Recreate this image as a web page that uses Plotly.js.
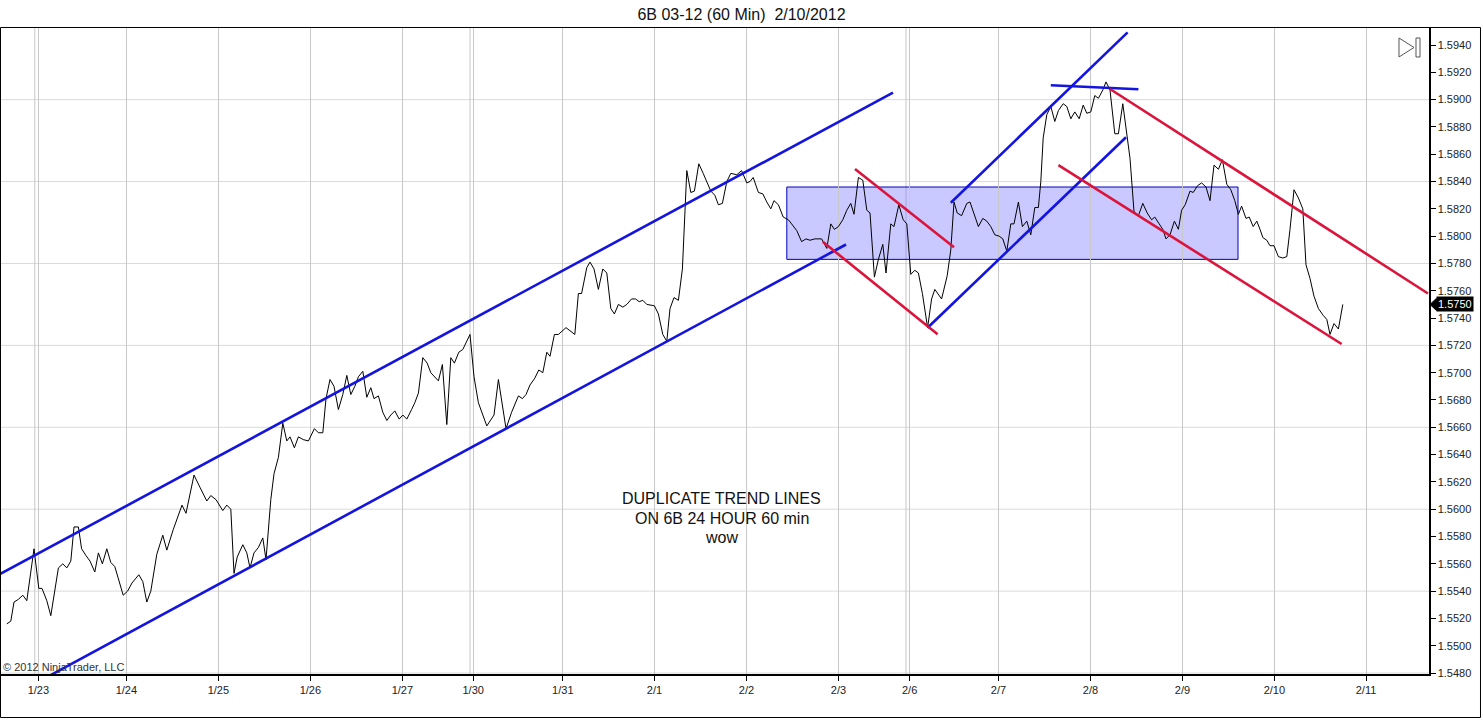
<!DOCTYPE html>
<html>
<head>
<meta charset="utf-8">
<script src="https://cdn.plot.ly/plotly-3.0.1.min.js"></script>
<style>html,body{margin:0;padding:0;background:#fff;}#chart{width:1483px;height:720px;}</style>
</head>
<body>
<div id="chart"></div>
<script>
// ---- data: hourly bar index (x) and close price (y) ----
const hours = [
1.2,2.2,3,4.1,5.2,6.2,8,9.2,10,11.2,
12.2,14.1,15.2,16.2,17.2,18,19.1,19.9,21,22,
23.2,24.1,25.1,26.2,27.2,28.2,30.3,31.4,32.5,34.2,
35.2,36.2,37.2,38.7,40.2,41.2,42.8,45,46,48,
49.5,51.2,52.2,53.5,55.2,56.2,57.2,58,58.8,60.2,
61.2,62,63,64.1,65.2,66,67.2,68,69.1,70.2,
71.2,72,73.1,74.1,75.3,76.6,78.1,79.1,80.2,81,
82,83,84.1,85.2,86.2,87.2,88.2,89.1,90.2,91.2,
92.2,93,94.1,95.2,96.2,97.2,98.2,99.3,100.2,101.2,
102.4,103.2,104.1,105.2,106.3,107.2,109.1,110.1,111.2,112.2,
113.1,114.2,115.2,116.2,117,118,119.1,121.2,123,124.1,
126,127.4,129.1,130.1,131,132,133.2,134.2,135.2,136.2,
137,138.1,139.1,141,142,143.2,144.1,144.9,146.2,147,
148,149.1,150.2,151.2,152.2,153.1,154.1,155.2,156.2,157.4,
158.4,159.3,160.2,161.2,163.1,164.1,165.2,166.2,167,168,
169.1,170.1,171.2,172.2,173.1,174.2,175.3,176.3,177.2,178.2,
179.1,180.1,181.2,182.2,183.7,184.9,186.2,187,187.8,189.1,
190.2,191.2,192.2,193,194.1,195.3,196.6,197.4,198.7,199.9,
201,202,203.2,204.9,206.2,207.2,208.1,209.1,210.2,211.2,
212.2,213,214.1,215.2,216.2,217,218.1,219.1,220.2,221,
222.2,223,224.2,225.3,226.2,227.2,228.2,229.1,230.1,231.4,
232.4,233.2,234.9,236.3,237.2,238,238.8,239.9,241.2,242,
243,244.1,245.2,246.2,247.2,248.2,249.3,250.2,251.2,252.2,
253,254.1,255.1,256.2,257.2,257.8,258.2,259.1,259.7,260.3,
261.2,262.2,263.2,264.1,265.3,266.2,267.2,268.2,269.3,270.3,
271.2,272.2,273.2,274.1,275.2,276,277,278.2,279.1,280.2,
281.2,282,283,284.1,285.2,286.3,287.4,288.2,289.3,290.2,
291,292,293.1,294.1,294.9,295.8,297,297.8,298.9,299.9,
301,302,303,304.1,305.1,306.2,307.2,308.2,309.1,309.9,
311,311.8,312.8,313.7,314.5,315.2,316.2,317,318,319.1,
320.2,321.2,322,323,324.1,325.2,326,327,328,329.1,
330.3,331.2,332,333,334.1,335.2
];
const price = [
1.5516,1.5518,1.5532,1.5534,1.5537,1.5533,1.5571,1.5542,1.5542,1.5533,
1.5522,1.5557,1.5560,1.5557,1.5562,1.5587,1.5587,1.5571,1.5566,1.5562,
1.5554,1.5568,1.5560,1.5571,1.5561,1.5558,1.5537,1.5540,1.5546,1.5552,
1.5547,1.5532,1.5540,1.5567,1.5581,1.5570,1.5585,1.5603,1.5597,1.5625,
1.5616,1.5606,1.5610,1.5607,1.5599,1.5603,1.5600,1.5553,1.5565,1.5574,
1.5568,1.5557,1.5568,1.5572,1.5579,1.5563,1.5607,1.5626,1.5638,1.5663,
1.5650,1.5653,1.5645,1.5653,1.5651,1.5650,1.5659,1.5656,1.5656,1.5681,
1.5695,1.5690,1.5673,1.5684,1.5698,1.5684,1.5690,1.5697,1.5701,1.5682,
1.5689,1.5681,1.5683,1.5671,1.5665,1.5669,1.5672,1.5666,1.5669,1.5666,
1.5673,1.5678,1.5685,1.5711,1.5707,1.5700,1.5694,1.5706,1.5662,1.5711,
1.5707,1.5715,1.5717,1.5723,1.5728,1.5697,1.5678,1.5661,1.5669,1.5695,
1.5659,1.5671,1.5683,1.5681,1.5684,1.5691,1.5696,1.5702,1.5700,1.5715,
1.5712,1.5728,1.5728,1.5733,1.5731,1.5728,1.5758,1.5758,1.5777,1.5781,
1.5776,1.5761,1.5776,1.5773,1.5747,1.5743,1.5750,1.5748,1.5750,1.5754,
1.5754,1.5752,1.5753,1.5750,1.5749,1.5743,1.5728,1.5723,1.5747,1.5755,
1.5753,1.5776,1.5848,1.5832,1.5833,1.5853,1.5846,1.5839,1.5833,1.5830,
1.5823,1.5824,1.5840,1.5846,1.5845,1.5848,1.5839,1.5840,1.5843,1.5832,
1.5831,1.5825,1.5820,1.5826,1.5823,1.5814,1.5812,1.5809,1.5804,1.5796,
1.5798,1.5797,1.5798,1.5798,1.5791,1.5809,1.5805,1.5807,1.5812,1.5819,
1.5824,1.5816,1.5843,1.5841,1.5819,1.5817,1.5770,1.5783,1.5794,1.5773,
1.5809,1.5807,1.5823,1.5812,1.5809,1.5772,1.5775,1.5773,1.5758,1.5733,
1.5754,1.5761,1.5754,1.5771,1.5790,1.5825,1.5817,1.5815,1.5824,1.5825,
1.5817,1.5807,1.5813,1.5811,1.5807,1.5801,1.5800,1.5798,1.5789,1.5809,
1.5809,1.5825,1.5807,1.5811,1.5801,1.5815,1.5821,1.5821,1.5840,1.5872,
1.5889,1.5895,1.5884,1.5892,1.5897,1.5895,1.5886,1.5891,1.5886,1.5896,
1.5890,1.5891,1.5903,1.5901,1.5907,1.5913,1.5907,1.5875,1.5875,1.5897,
1.5875,1.5857,1.5818,1.5815,1.5824,1.5817,1.5812,1.5814,1.5809,1.5805,
1.5798,1.5801,1.5811,1.5805,1.5819,1.5823,1.5833,1.5832,1.5837,1.5839,
1.5836,1.5826,1.5852,1.5849,1.5856,1.5838,1.5834,1.5826,1.5816,1.5822,
1.5813,1.5814,1.5807,1.5811,1.5805,1.5799,1.5797,1.5793,1.5793,1.5785,
1.5784,1.5785,1.5805,1.5834,1.5828,1.5820,1.5779,1.5769,1.5756,1.5747,
1.5742,1.5739,1.5728,1.5736,1.5732,1.5750
];
// day labels on the bar axis
const dayLabels = ['1/23','1/24','1/25','1/26','1/27','1/30','1/31','2/1','2/2','2/3','2/6','2/7','2/8','2/9','2/10','2/11'];
const dayBars   = [9.1,31.1,54.1,77.1,100.1,117.8,140.2,163.1,186.1,209.1,226.9,249.1,272.1,295.1,318.1,341];
const sessionBreakBars = [8.2,117.0,226.0];
const priceGrid = [1.548,1.554,1.560,1.566,1.572,1.578,1.584,1.590];
// drawn trend lines: [bar0, price0, bar1, price1]
const blueLines = [
  [-0.5, 1.55525, 222.75, 1.59052],
  [11.5, 1.54774, 211.0, 1.57939],
  [231.4, 1.57329, 281.0, 1.58724],
  [237.2, 1.58245, 281.4, 1.59493],
  [262.2, 1.59105, 284.1, 1.59076]
];
const redLines = [
  [213.25, 1.58492, 238.0, 1.57918],
  [205.2, 1.57959, 233.9, 1.57281],
  [277.0, 1.59078, 356.5, 1.57580],
  [264.1, 1.58521, 334.9, 1.57210]
];
// range box: [bar0, bar1, lowPrice, highPrice]
const rangeBox = [196.2, 309.0, 1.5783, 1.5836];
const lastPrice = 1.5750;
const noteLines = ['DUPLICATE TREND LINES','ON 6B 24 HOUR 60 min','wow'];

// ---- build ----
const BLUE = 'rgb(20,20,225)';
const RED = 'rgb(220,20,60)';
const traces = [{
  x: hours, y: price, type: 'scatter', mode: 'lines',
  line: {color: '#000', width: 1}, hoverinfo: 'skip'
}];
function addLines(list, color) {
  list.forEach(l => traces.push({
    x: [l[0], l[2]], y: [l[1], l[3]], type: 'scatter', mode: 'lines',
    line: {color: color, width: 2.6}, hoverinfo: 'skip'
  }));
}
addLines(blueLines, BLUE);
addLines(redLines, RED);

const shapes = [];
priceGrid.forEach(v => shapes.push({type:'line', xref:'paper', x0:0, x1:1, yref:'y', y0:v, y1:v,
  line:{color:'#dadada', width:1}, layer:'below'}));
sessionBreakBars.forEach(v => shapes.push({type:'line', xref:'x', x0:v, x1:v, yref:'paper', y0:0, y1:1,
  line:{color:'#c8c8c8', width:1}, layer:'below'}));
shapes.push({type:'rect', xref:'x', yref:'y', x0:rangeBox[0], x1:rangeBox[1], y0:rangeBox[2], y1:rangeBox[3],
  fillcolor:'rgba(90,90,255,0.33)', line:{color:'rgb(0,0,190)', width:1}, layer:'below'});
// outer frame
shapes.push({type:'rect', xref:'paper', yref:'paper', x0:-0.00035, x1:1.03606, y0:-0.06723, y1:0.99923,
  line:{color:'#000', width:1}, fillcolor:'rgba(0,0,0,0)', layer:'above'});
// last price pointer
const dy = 0.00044;
shapes.push({type:'path', xref:'paper', yref:'y',
  path:`M 1.0007,${lastPrice} L 1.0052,${lastPrice+dy} L 1.0052,${lastPrice-dy} Z`,
  fillcolor:'#000', line:{color:'#000', width:1}});
// play-to-end icon
shapes.push({type:'path', xref:'paper', yref:'paper',
  path:'M 0.97899,0.98300 L 0.97899,0.95363 L 0.98950,0.96832 Z',
  fillcolor:'#fff', line:{color:'#555', width:1}});
shapes.push({type:'rect', xref:'paper', yref:'paper', x0:0.99089, x1:0.99370, y0:0.95363, y1:0.98300,
  fillcolor:'#fff', line:{color:'#555', width:1}});

const annotations = [];
const noteY = [0.2705, 0.2405, 0.2107];
noteLines.forEach((t, i) => annotations.push({text:t, xref:'paper', yref:'paper', x:0.5049, y:noteY[i],
  xanchor:'center', yanchor:'middle', showarrow:false, font:{size:16, color:'#111'}}));
annotations.push({text:'© 2012 NinjaTrader, LLC', xref:'paper', yref:'paper', x:0.0002, y:0.0108,
  xanchor:'left', yanchor:'middle', showarrow:false, font:{size:11, color:'#333'}});
annotations.push({text:lastPrice.toFixed(4), xref:'paper', yref:'y', x:1.0049, y:lastPrice,
  xanchor:'left', yanchor:'middle', showarrow:false, bgcolor:'#000', borderpad:1,
  font:{size:11, color:'#fff'}});

const layout = {
  width: 1483, height: 720,
  margin: {l:1, r:54, t:27, b:46, pad:0},
  paper_bgcolor: '#fff', plot_bgcolor: '#fff',
  font: {family: '"Liberation Sans", Arial, sans-serif', size: 11, color: '#222'},
  title: {text: '6B 03-12 (60 Min)\u00a0 2/10/2012', x: 0.5, xref: 'container', xanchor: 'center',
          y: 0.9806, yref: 'container', yanchor: 'middle', font: {size: 16, color: '#111'}},
  showlegend: false,
  xaxis: {range: [-0.25, 356.75], tickmode: 'array', tickvals: dayBars, ticktext: dayLabels,
          showgrid: true, gridcolor: '#c8c8c8', gridwidth: 1, zeroline: false,
          showline: true, linecolor: '#000', linewidth: 1.5, ticks: 'outside', ticklen: 5,
          tickcolor: '#000', tickfont: {size: 11, color: '#222'}, fixedrange: true},
  yaxis: {range: [1.54793, 1.59532], side: 'right', tick0: 1.548, dtick: 0.002, tickformat: '.4f',
          showgrid: false, zeroline: false, showline: true, linecolor: '#000', linewidth: 1.5,
          ticks: 'outside', ticklen: 5, tickcolor: '#000', tickfont: {size: 11, color: '#222'}, fixedrange: true},
  shapes: shapes,
  annotations: annotations
};
Plotly.newPlot('chart', traces, layout, {displayModeBar: false, staticPlot: true});
</script>
</body>
</html>
